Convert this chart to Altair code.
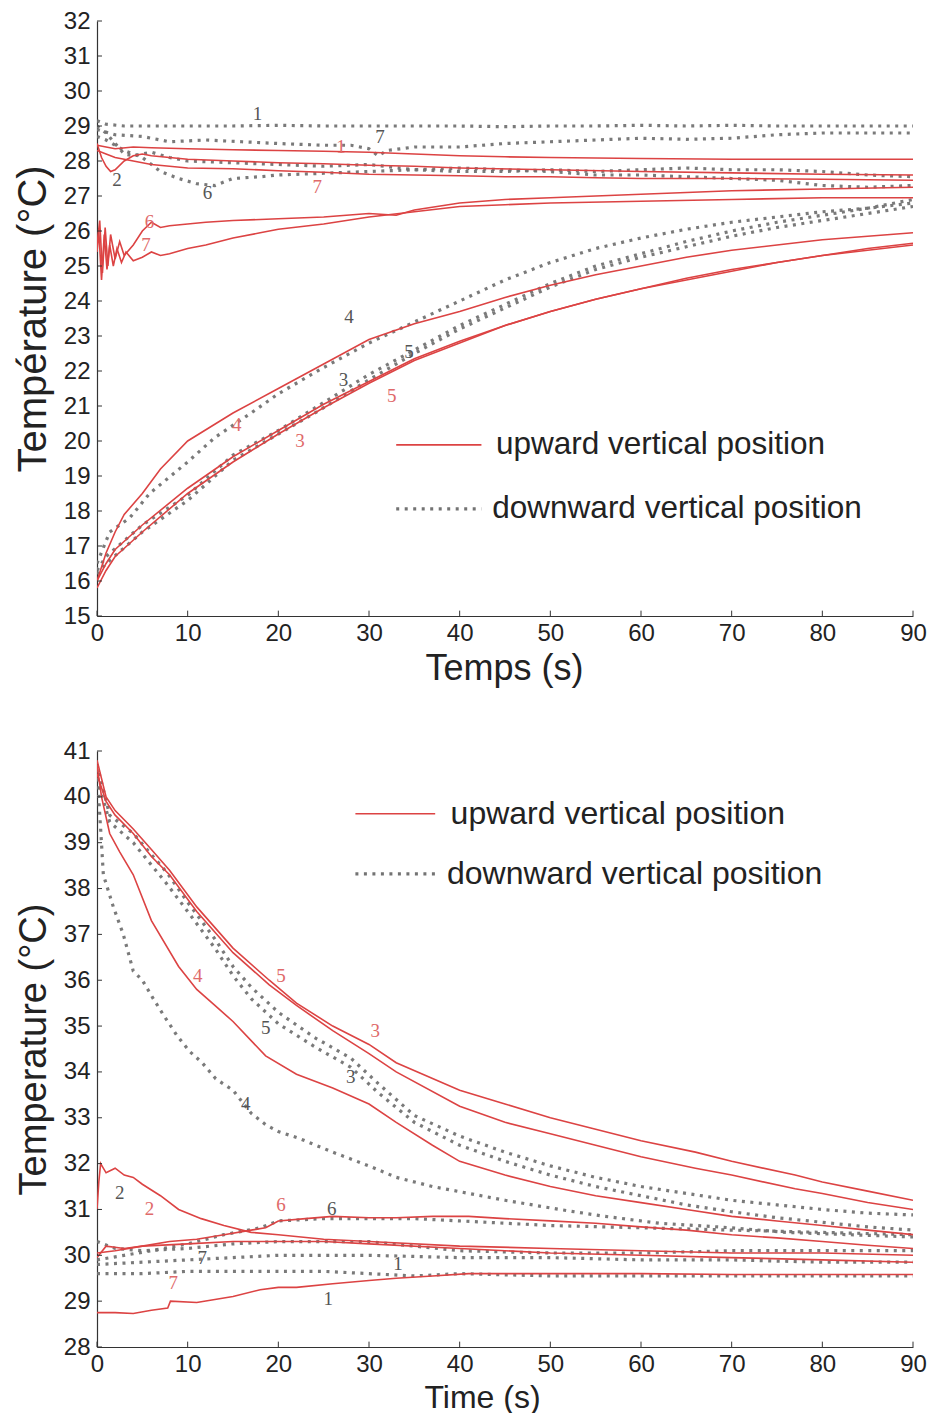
import altair as alt
import pandas as pd

RED = "#dc4343"
GREY = "#737373"
FONT = "Liberation Sans"
LFONT = "Liberation Serif"

# ---------------- top panel (heating) ----------------
# upward vertical position (red solid lines)
tu1_t = [0, 1, 2, 4, 6, 10, 15, 20, 25, 30, 35, 40, 45, 50, 60, 70, 80, 90]
tu1_y = [28.45, 28.4, 28.35, 28.4, 28.38, 28.35, 28.32, 28.3, 28.28, 28.25, 28.2, 28.15, 28.12, 28.1, 28.07, 28.05, 28.05, 28.05]
tu2_t = [0, 0.5, 1, 1.5, 2, 3, 4, 5, 6, 8, 10, 15, 20, 25, 30, 35, 40, 50, 60, 70, 80, 90]
tu2_y = [28.5, 28.1, 27.85, 27.7, 27.75, 28.0, 28.15, 28.2, 28.15, 28.1, 28.05, 28.0, 27.95, 27.92, 27.88, 27.85, 27.8, 27.75, 27.7, 27.66, 27.62, 27.6]
tu7_t = [0, 1, 2, 4, 6, 8, 10, 15, 20, 25, 30, 35, 40, 45, 50, 55, 60, 70, 80, 90]
tu7_y = [28.3, 28.2, 28.1, 28.0, 27.9, 27.85, 27.8, 27.78, 27.72, 27.68, 27.62, 27.6, 27.58, 27.55, 27.55, 27.52, 27.5, 27.5, 27.48, 27.45]
tu6_t = [0, 0.3, 0.6, 0.9, 1.2, 1.5, 2, 2.5, 3, 4, 5, 6, 7, 8, 10, 12, 15, 20, 25, 30, 33, 35, 40, 45, 50, 55, 60, 70, 80, 90]
tu6_y = [25.6, 26.3, 24.8, 26.1, 25.0, 25.9, 25.2, 25.7, 25.3, 25.6, 26.0, 26.25, 26.1, 26.15, 26.2, 26.25, 26.3, 26.35, 26.4, 26.5, 26.45, 26.6, 26.8, 26.9, 26.95, 27.0, 27.05, 27.15, 27.2, 27.25]
tu7b_t = [0, 0.2, 0.5, 0.8, 1.1, 1.4, 1.8, 2.2, 2.7, 3.2, 4, 5, 6, 7, 8, 10, 12, 15, 18, 20, 25, 30, 35, 40, 45, 50, 60, 70, 80, 90]
tu7b_y = [25.4, 26.0, 24.6, 25.9, 24.9, 25.6, 25.0, 25.5, 25.1, 25.4, 25.15, 25.25, 25.4, 25.3, 25.35, 25.5, 25.6, 25.8, 25.95, 26.05, 26.2, 26.4, 26.55, 26.7, 26.75, 26.8, 26.85, 26.9, 26.95, 26.95]
tu4_t = [0, 1, 2, 3, 5, 7, 10, 15, 20, 25, 30, 35, 40, 45, 50, 55, 60, 65, 70, 75, 80, 85, 90]
tu4_y = [16.0, 16.8, 17.4, 17.9, 18.5, 19.2, 20.0, 20.8, 21.5, 22.2, 22.9, 23.35, 23.7, 24.1, 24.45, 24.75, 25.0, 25.25, 25.45, 25.6, 25.75, 25.85, 25.95]
tu3_t = [0, 1, 2, 5, 10, 15, 20, 25, 30, 35, 40, 45, 50, 55, 60, 65, 70, 75, 80, 85, 90]
tu3_y = [15.8, 16.3, 16.7, 17.4, 18.5, 19.4, 20.2, 20.95, 21.65, 22.3, 22.8, 23.3, 23.7, 24.05, 24.35, 24.65, 24.9, 25.1, 25.3, 25.45, 25.6]
tu5_t = [0, 1, 2, 5, 10, 15, 20, 25, 30, 35, 40, 45, 50, 55, 60, 65, 70, 75, 80, 85, 90]
tu5_y = [16.0, 16.5, 16.9, 17.6, 18.65, 19.55, 20.3, 21.05, 21.7, 22.35, 22.85, 23.3, 23.7, 24.05, 24.35, 24.6, 24.85, 25.1, 25.3, 25.5, 25.65]

# downward vertical position (grey markers)
td1_t = [0, 1, 3, 5, 10, 15, 20, 25, 30, 35, 40, 45, 50, 55, 60, 65, 70, 75, 80, 85, 90]
td1_y = [29.15, 29.05, 29.0, 29.0, 29.0, 29.0, 29.02, 29.0, 29.0, 29.0, 29.0, 28.98, 29.0, 29.0, 29.02, 29.0, 29.02, 29.0, 29.0, 29.0, 29.0]
td7_t = [0, 2, 5, 8, 12, 16, 20, 25, 28, 30, 31, 32, 35, 40, 45, 50, 55, 60, 65, 70, 75, 80, 85, 90]
td7_y = [28.9, 28.75, 28.7, 28.55, 28.6, 28.55, 28.5, 28.45, 28.45, 28.35, 28.15, 28.3, 28.4, 28.4, 28.5, 28.55, 28.6, 28.65, 28.62, 28.65, 28.75, 28.8, 28.8, 28.8]
td2_t = [0, 1, 2, 3, 4, 6, 8, 10, 15, 20, 25, 30, 35, 40, 45, 50, 55, 60, 65, 70, 75, 80, 85, 90]
td2_y = [29.0, 28.8, 28.5, 28.2, 28.15, 28.25, 28.1, 28.0, 27.95, 27.9, 27.85, 27.9, 27.75, 27.7, 27.7, 27.75, 27.7, 27.75, 27.8, 27.75, 27.75, 27.7, 27.6, 27.55]
td6_t = [0, 1, 3, 5, 7, 9, 11, 13, 15, 18, 20, 25, 30, 35, 40, 45, 50, 55, 60, 65, 70, 75, 80, 85, 90]
td6_y = [28.7, 28.6, 28.3, 28.1, 27.7, 27.5, 27.35, 27.3, 27.5, 27.55, 27.6, 27.65, 27.7, 27.75, 27.8, 27.75, 27.7, 27.6, 27.6, 27.55, 27.5, 27.45, 27.3, 27.25, 27.3]
td4_t = [0, 1.4, 3.6, 5.8, 10, 13, 17, 20, 25, 30, 35, 40, 45, 50, 55, 60, 65, 70, 75, 80, 85, 90]
td4_y = [16.5, 17.4, 17.8, 18.5, 19.4, 20.1, 20.8, 21.35, 22.1, 22.8, 23.4, 24.0, 24.6, 25.1, 25.5, 25.8, 26.05, 26.25, 26.4, 26.55, 26.65, 26.8]
td3_t = [0, 1, 5, 10, 15, 20, 25, 30, 35, 40, 45, 50, 55, 60, 65, 70, 75, 80, 85, 90]
td3_y = [16.2, 16.5, 17.4, 18.3, 19.45, 20.2, 20.95, 21.75, 22.5, 23.2, 23.8, 24.4, 24.9, 25.25, 25.55, 25.85, 26.1, 26.3, 26.5, 26.7]
td5_t = [0, 1, 5, 10, 15, 20, 25, 30, 35, 40, 45, 50, 55, 60, 65, 70, 75, 80, 85, 90]
td5_y = [16.3, 16.7, 17.6, 18.45, 19.6, 20.3, 21.1, 21.9, 22.6, 23.3, 23.9, 24.5, 25.0, 25.35, 25.7, 26.0, 26.25, 26.45, 26.65, 26.9]

# curve labels (text, t, T)
top_red_labels = [("1", 26.9, 28.4), ("7", 24.3, 27.25), ("6", 5.8, 26.25), ("7", 5.4, 25.6),
                  ("4", 15.4, 20.45), ("5", 32.5, 21.3), ("3", 22.4, 20.0)]
top_grey_labels = [("1", 17.7, 29.35), ("7", 31.2, 28.7), ("2", 2.2, 27.45), ("6", 12.2, 27.1),
                   ("4", 27.8, 23.55), ("3", 27.2, 21.75), ("5", 34.4, 22.55)]

# ---------------- bottom panel (cooling) ----------------
bu5_t = [0, 1, 2, 4, 6, 8, 11, 15, 19, 22, 26, 30, 33, 40, 45, 50, 55, 60, 66, 70, 77, 80, 85, 90]
bu5_y = [40.8, 40.0, 39.7, 39.3, 38.85, 38.4, 37.6, 36.7, 36.0, 35.5, 35.0, 34.6, 34.2, 33.6, 33.3, 33.0, 32.75, 32.5, 32.25, 32.05, 31.75, 31.6, 31.4, 31.2]
bu3_t = [0, 1, 2, 4, 6, 8, 11, 15, 19, 22, 26, 30, 33, 40, 45, 50, 55, 60, 66, 70, 77, 80, 85, 90]
bu3_y = [40.5, 39.9, 39.6, 39.2, 38.7, 38.3, 37.5, 36.6, 35.9, 35.45, 34.9, 34.4, 34.0, 33.25, 32.9, 32.65, 32.4, 32.15, 31.9, 31.75, 31.45, 31.35, 31.15, 31.0]
bu4_t = [0, 0.5, 1.4, 2.5, 4, 6, 9, 11, 13, 15, 18.6, 22, 26, 30, 33, 37, 40, 45, 50, 55, 60, 65, 70, 75, 80, 85, 90]
bu4_y = [40.7, 40.0, 39.2, 38.8, 38.3, 37.3, 36.3, 35.8, 35.45, 35.1, 34.35, 33.95, 33.65, 33.3, 32.9, 32.4, 32.05, 31.75, 31.5, 31.3, 31.15, 31.0, 30.85, 30.75, 30.65, 30.55, 30.45]
bu2_t = [0, 0.2, 0.4, 1, 2, 3, 4, 5, 7, 9, 11.5, 14, 17, 20, 25, 30, 40, 50, 60, 70, 80, 90]
bu2_y = [31.0, 31.6, 32.0, 31.8, 31.9, 31.75, 31.7, 31.55, 31.3, 31.0, 30.8, 30.65, 30.5, 30.45, 30.35, 30.3, 30.2, 30.15, 30.1, 30.05, 30.05, 30.0]
bu6_t = [0, 2, 5, 8, 11, 14, 17, 18.6, 20, 23, 26, 30, 33, 37, 41, 45, 50, 55, 60, 65, 70, 75, 80, 85, 90]
bu6_y = [30.05, 30.1, 30.2, 30.3, 30.35, 30.45, 30.55, 30.6, 30.75, 30.8, 30.85, 30.82, 30.82, 30.85, 30.85, 30.8, 30.75, 30.7, 30.62, 30.55, 30.45, 30.38, 30.3, 30.22, 30.15]
bu1_t = [0, 1, 3, 5, 10, 15, 20, 25, 30, 40, 50, 60, 70, 80, 90]
bu1_y = [29.95, 30.2, 30.15, 30.2, 30.25, 30.3, 30.3, 30.3, 30.25, 30.15, 30.05, 30.0, 29.95, 29.9, 29.85]
bu7_t = [0, 2, 4, 6, 7.8, 8.1, 11, 15, 18, 20, 22, 26, 30, 33, 37, 41, 50, 60, 70, 80, 90]
bu7_y = [28.75, 28.75, 28.73, 28.8, 28.85, 29.0, 28.97, 29.1, 29.25, 29.3, 29.3, 29.38, 29.45, 29.5, 29.55, 29.6, 29.6, 29.6, 29.58, 29.58, 29.58]

bd5_t = [0, 1.4, 4, 7.7, 10, 13, 15, 17, 20, 24, 28, 31, 35, 40, 45, 50, 55, 60, 65, 70, 75, 80, 85, 90]
bd5_y = [40.7, 39.6, 39.2, 38.35, 37.7, 36.9, 36.3, 35.85, 35.3, 34.75, 34.3, 33.75, 33.05, 32.6, 32.25, 31.95, 31.7, 31.5, 31.35, 31.2, 31.1, 31.0, 30.92, 30.88]
bd3_t = [0, 1.4, 4, 7.7, 10, 13, 15, 17, 20, 24, 28, 31, 35, 40, 45, 50, 55, 60, 65, 70, 75, 80, 85, 90]
bd3_y = [40.4, 39.45, 39.0, 38.1, 37.5, 36.7, 36.1, 35.6, 35.05, 34.55, 34.1, 33.55, 32.9, 32.4, 32.05, 31.75, 31.5, 31.3, 31.1, 30.95, 30.82, 30.72, 30.62, 30.55]
bd4_t = [0, 0.4, 0.7, 1.8, 2.9, 4, 5, 6.2, 7.3, 8.8, 10.2, 11.6, 13.1, 15, 17, 18.6, 20, 22.3, 26, 30, 33, 37, 41, 45, 51, 56, 62, 70, 76, 83, 90]
bd4_y = [40.6, 39.3, 38.3, 37.6, 37.0, 36.2, 36.0, 35.6, 35.25, 34.8, 34.45, 34.2, 33.85, 33.6, 33.1, 32.85, 32.7, 32.55, 32.25, 31.95, 31.7, 31.5, 31.35, 31.2, 31.0, 30.85, 30.7, 30.6, 30.5, 30.45, 30.4]
bd6_t = [0, 3, 6, 10, 14, 18, 20, 25, 30, 35, 40, 45, 50, 60, 70, 80, 90]
bd6_y = [29.9, 30.0, 30.1, 30.25, 30.45, 30.6, 30.75, 30.8, 30.8, 30.8, 30.75, 30.7, 30.65, 30.6, 30.55, 30.5, 30.45]
bd2_t = [0, 2, 5, 10, 15, 20, 25, 30, 35, 40, 50, 60, 70, 80, 90]
bd2_y = [30.3, 30.15, 30.1, 30.15, 30.25, 30.3, 30.3, 30.3, 30.2, 30.1, 30.05, 30.05, 30.1, 30.1, 30.1]
bd7_t = [0, 5, 10, 15, 20, 25, 30, 40, 50, 60, 70, 80, 90]
bd7_y = [29.8, 29.85, 29.9, 29.95, 30.0, 30.0, 30.0, 29.95, 29.95, 29.9, 29.9, 29.85, 29.85]
bd1_t = [0, 5, 10, 15, 20, 25, 30, 35, 40, 50, 60, 70, 80, 90]
bd1_y = [29.6, 29.6, 29.65, 29.65, 29.65, 29.65, 29.6, 29.55, 29.6, 29.55, 29.55, 29.55, 29.55, 29.55]

bot_red_labels = [("5", 20.3, 36.1), ("3", 30.7, 34.9), ("4", 11.1, 36.1), ("2", 5.8, 31.0),
                  ("6", 20.3, 31.1), ("7", 8.4, 29.4)]
bot_grey_labels = [("5", 18.6, 34.95), ("3", 28.0, 33.9), ("4", 16.4, 33.3), ("2", 2.5, 31.35),
                   ("6", 25.9, 31.0), ("7", 11.6, 29.95), ("1", 33.2, 29.8), ("1", 25.5, 29.05)]

legend_names = ["upward vertical position", "downward vertical position"]
x_ticks = [0, 10, 20, 30, 40, 50, 60, 70, 80, 90]
top_y_ticks = list(range(15, 33))
bot_y_ticks = list(range(28, 42))

PLOT_W = 816


def series_df(entries):
    rows = []
    for name, ts, ys in entries:
        for t, y in zip(ts, ys):
            rows.append({"s": name, "t": t, "T": y})
    return pd.DataFrame(rows)


def labels_df(items):
    return pd.DataFrame([{"lab": a, "t": b, "T": c} for a, b, c in items])


def panel(up, down, red_labels, grey_labels, ydom, yticks, xtitle, ytitle, height,
          ytfs, xtfs, xtitle_x, legfs, leg_x0, leg_x1, leg_tx, leg_y1, leg_y2):
    xs = alt.Scale(domain=[0, 90], nice=False, zero=False)
    ys = alt.Scale(domain=ydom, nice=False, zero=False)
    xax = alt.Axis(values=x_ticks, tickSize=0, labelPadding=5, title=xtitle, labelFlush=False,
                   titleFontSize=xtfs, labelFontSize=24, titlePadding=6, format="d",
                   titleX=xtitle_x, titleAlign="center")
    yax = alt.Axis(values=yticks, tickSize=0, labelPadding=7, title=ytitle, labelFlush=False,
                   titleFontSize=ytfs, labelFontSize=24, titlePadding=10, format="d")

    def X(f):
        return alt.X(f, scale=xs, axis=xax)

    def Y(f):
        return alt.Y(f, scale=ys, axis=yax)

    grey = alt.Chart(series_df(down)).mark_line(
        color=GREY, strokeWidth=3.2, strokeDash=[3, 5.5], clip=True, opacity=0.95
    ).encode(x=X("t:Q"), y=Y("T:Q"), detail="s:N", order="t:Q")
    red = alt.Chart(series_df(up)).mark_line(
        color=RED, strokeWidth=1.6, clip=True
    ).encode(x=X("t:Q"), y=Y("T:Q"), detail="s:N", order="t:Q")

    rl = alt.Chart(labels_df(red_labels)).mark_text(
        font=LFONT, fontSize=19, color="#e06a6a"
    ).encode(x=X("t:Q"), y=Y("T:Q"), text="lab:N")
    gl = alt.Chart(labels_df(grey_labels)).mark_text(
        font=LFONT, fontSize=19, color="#555555"
    ).encode(x=X("t:Q"), y=Y("T:Q"), text="lab:N")

    # inward tick marks (MATLAB style)
    span = ydom[1] - ydom[0]
    ytk = pd.DataFrame({"t": [0] * len(yticks), "t2": [0.55] * len(yticks), "T": yticks})
    xtk = pd.DataFrame({"t": x_ticks, "T": [ydom[0]] * len(x_ticks),
                        "T2": [ydom[0] + span * 0.009] * len(x_ticks)})
    ytick_layer = alt.Chart(ytk).mark_rule(color="#333", strokeWidth=1).encode(
        x=X("t:Q"), x2="t2:Q", y=Y("T:Q"))
    xtick_layer = alt.Chart(xtk).mark_rule(color="#333", strokeWidth=1).encode(
        x=X("t:Q"), y=Y("T:Q"), y2="T2:Q")

    # legend
    leg_red = pd.DataFrame({"t": [leg_x0, leg_x1], "T": [leg_y1, leg_y1]})
    leg_grey = pd.DataFrame({"t": [leg_x0, leg_x1], "T": [leg_y2, leg_y2]})
    leg_txt = pd.DataFrame({"lab": legend_names, "t": [leg_tx, leg_tx - 0.4], "T": [leg_y1, leg_y2]})
    lr = alt.Chart(leg_red).mark_line(color=RED, strokeWidth=1.6).encode(x=X("t:Q"), y=Y("T:Q"))
    lg = alt.Chart(leg_grey).mark_line(color=GREY, strokeWidth=3.2, strokeDash=[3, 5.5]).encode(
        x=X("t:Q"), y=Y("T:Q"))
    lt = alt.Chart(leg_txt).mark_text(font=FONT, fontSize=legfs, align="left", baseline="middle",
                                      color="#222").encode(x=X("t:Q"), y=Y("T:Q"), text="lab:N")

    return alt.layer(grey, red, rl, gl, ytick_layer, xtick_layer, lr, lg, lt).properties(
        width=PLOT_W, height=height)


top = panel(
    [("1", tu1_t, tu1_y), ("2", tu2_t, tu2_y), ("7", tu7_t, tu7_y), ("6", tu6_t, tu6_y),
     ("7b", tu7b_t, tu7b_y), ("4", tu4_t, tu4_y), ("3", tu3_t, tu3_y), ("5", tu5_t, tu5_y)],
    [("1", td1_t, td1_y), ("7", td7_t, td7_y), ("2", td2_t, td2_y), ("6", td6_t, td6_y),
     ("4", td4_t, td4_y), ("3", td3_t, td3_y), ("5", td5_t, td5_y)],
    top_red_labels, top_grey_labels, [15, 32], top_y_ticks,
    "Temps (s)", "Température (°C)", 595, 40, 36, 407, 31.5,
    33.0, 42.4, 44.0, 19.89, 18.06)

bottom = panel(
    [("5", bu5_t, bu5_y), ("3", bu3_t, bu3_y), ("4", bu4_t, bu4_y), ("2", bu2_t, bu2_y),
     ("6", bu6_t, bu6_y), ("1", bu1_t, bu1_y), ("7", bu7_t, bu7_y)],
    [("5", bd5_t, bd5_y), ("3", bd3_t, bd3_y), ("4", bd4_t, bd4_y), ("6", bd6_t, bd6_y),
     ("2", bd2_t, bd2_y), ("7", bd7_t, bd7_y), ("1", bd1_t, bd1_y)],
    bot_red_labels, bot_grey_labels, [28, 41], bot_y_ticks,
    "Time (s)", "Temperature (°C)", 596, 38, 32, 385, 32,
    28.5, 37.3, 39.0, 39.63, 38.32)

chart = alt.vconcat(top, bottom, spacing=53).properties(
    padding={"left": 5, "top": 1, "right": 0, "bottom": 0}
).configure_view(stroke=None).configure_axis(
    grid=False, domainColor="#333", domainWidth=1.2, labelFont=FONT, titleFont=FONT,
    labelColor="#222", titleColor="#222", titleFontWeight="normal"
)

chart.save("out.html", embed_options={"renderer": "svg", "actions": False})
